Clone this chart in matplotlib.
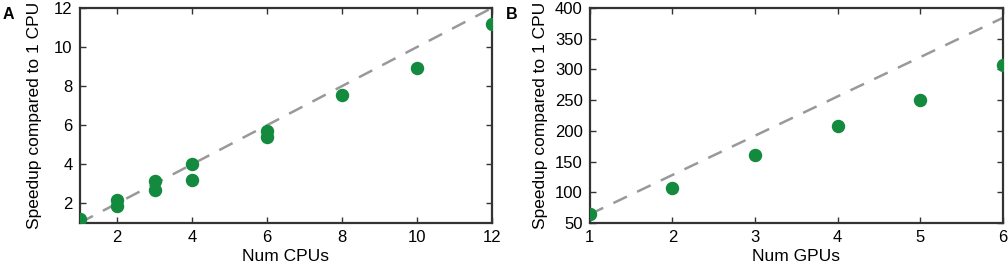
import matplotlib
matplotlib.use("Agg")
import matplotlib.pyplot as plt
import numpy as np

plt.rcParams['font.family'] = ['Liberation Sans', 'DejaVu Sans']

# panel A: CPU speedup
num_cpus = [1, 2, 2, 3, 3, 4, 4, 6, 6, 8, 10, 12]
cpu_speedup = [1.2, 2.17, 1.88, 3.16, 2.68, 4.02, 3.2, 5.72, 5.39, 7.57, 8.95, 11.2]
cpu_ticks_x = [2, 4, 6, 8, 10, 12]
cpu_ticks_y = [2, 4, 6, 8, 10, 12]

# panel B: GPU speedup
num_gpus = [1, 2, 3, 4, 5, 6]
gpu_speedup = [64, 107.6, 161, 207.6, 249.5, 307.6]
gpu_ticks_x = [1, 2, 3, 4, 5, 6]
gpu_ticks_y = [50, 100, 150, 200, 250, 300, 350, 400]

green = '#138a3d'
dash_col = '#999999'
frame_col = '#333333'

fig = plt.figure(figsize=(10.08, 2.66), dpi=100)
axA = fig.add_axes([0.079, 0.162, 0.409, 0.808])
axB = fig.add_axes([0.585, 0.162, 0.410, 0.808])


def style(ax):
    for s in ax.spines.values():
        s.set_color(frame_col)
        s.set_linewidth(1.6)
    ax.tick_params(direction='in', length=4, width=1, color=frame_col,
                   top=True, right=True, labelsize=12, pad=5)


# ideal linear speedup
xa = np.array([1, 12])
axA.plot(xa, xa * 1.0, '--', color=dash_col, lw=1.8, dashes=(6, 4.5))
axA.scatter(num_cpus, cpu_speedup, s=75, color=green, zorder=3)
axA.set_xlim(1, 12)
axA.set_ylim(1, 12)
axA.set_xticks(cpu_ticks_x)
axA.set_yticks(cpu_ticks_y)
axA.set_xlabel('Num CPUs', fontsize=12.5, labelpad=3)
axA.set_ylabel('Speedup compared to 1 CPU', fontsize=12.5, labelpad=9)
style(axA)

xb = np.array([1, 6])
axB.plot(xb, xb * gpu_speedup[0], '--', color=dash_col, lw=1.8, dashes=(6, 4.5))
axB.scatter(num_gpus, gpu_speedup, s=75, color=green, zorder=3)
axB.set_xlim(1, 6)
axB.set_ylim(50, 400)
axB.set_xticks(gpu_ticks_x)
axB.set_yticks(gpu_ticks_y)
axB.set_xlabel('Num GPUs', fontsize=12.5, labelpad=3)
axB.set_ylabel('Speedup compared to 1 CPU', fontsize=12.5, labelpad=5)
style(axB)

fig.text(0.003, 0.975, 'A', fontsize=11.5, fontweight='bold', va='top')
fig.text(0.502, 0.975, 'B', fontsize=11.5, fontweight='bold', va='top')

fig.savefig('out.png', dpi=100)
